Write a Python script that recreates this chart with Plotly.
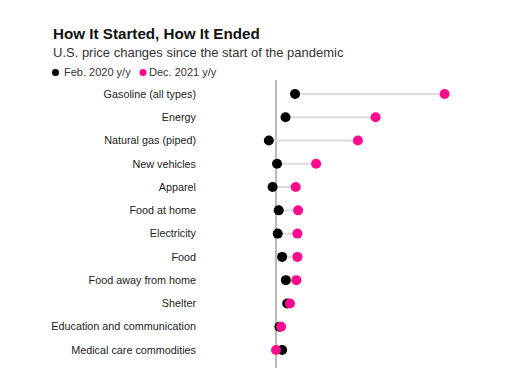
import plotly.graph_objects as go

categories = ["Gasoline (all types)", "Energy", "Natural gas (piped)", "New vehicles",
              "Apparel", "Food at home", "Electricity", "Food", "Food away from home",
              "Shelter", "Education and communication", "Medical care commodities"]
feb_2020 = [5.6, 2.8, -2.1, 0.3, -1.0, 0.8, 0.5, 1.8, 2.9, 3.3, 1.0, 1.8]
dec_2021 = [49.6, 29.3, 24.1, 11.8, 5.8, 6.5, 6.3, 6.3, 6.0, 4.1, 1.5, 0.0]
series_names = ["Feb. 2020 y/y", "Dec. 2021 y/y"]

BLACK = "#000000"
PINK = "#ff0a8c"
FONT = "Liberation Sans, Arial, sans-serif"

OFF = 8  # page offset of the figure in the browser
W, H = 504, 368
# plot area in screen pixels
SL, SR, ST, SB = 199, 504, 80, 376
L, T = SL - OFF, ST - OFF
R = W - (SR - OFF)
B = H - (SB - OFF)
pw, ph = W - L - R, H - T - B

fig = go.Figure()

# connector lines
cx, cy = [], []
for c, a, b in zip(categories, feb_2020, dec_2021):
    cx += [a, b, None]
    cy += [c, c, None]
fig.add_trace(go.Scatter(x=cx, y=cy, mode="lines", line=dict(color="#dcdcdc", width=2),
                         hoverinfo="skip", showlegend=False))

fig.add_trace(go.Scatter(x=feb_2020, y=categories, mode="markers", name=series_names[0],
                         marker=dict(color=BLACK, size=10), showlegend=False))
fig.add_trace(go.Scatter(x=dec_2021, y=categories, mode="markers", name=series_names[1],
                         marker=dict(color=PINK, size=10), showlegend=False))

def px_x(p):  # screen px -> paper
    return (p - OFF - L) / pw

def px_y(p):
    return (H - B - (p - OFF)) / ph

annotations = [
    dict(text="<b>How It Started, How It Ended</b>", x=px_x(51), y=px_y(33), xref="paper", yref="paper",
         xanchor="left", yanchor="middle", showarrow=False, font=dict(size=15.2, color="#111", family=FONT)),
    dict(text="U.S. price changes since the start of the pandemic", x=px_x(51), y=px_y(52),
         xref="paper", yref="paper", xanchor="left", yanchor="middle", showarrow=False,
         font=dict(size=13, color="#333", family=FONT)),
    dict(text=series_names[0], x=px_x(62), y=px_y(71.5), xref="paper", yref="paper",
         xanchor="left", yanchor="middle", showarrow=False, font=dict(size=11, color="#333", family=FONT)),
    dict(text=series_names[1], x=px_x(146.5), y=px_y(71.5), xref="paper", yref="paper",
         xanchor="left", yanchor="middle", showarrow=False, font=dict(size=11, color="#333", family=FONT)),
]

shapes = []
for cxp, col in [(55.5, BLACK), (143, PINK)]:
    shapes.append(dict(type="circle", xref="paper", yref="paper", xsizemode="pixel", ysizemode="pixel",
                       xanchor=px_x(cxp), yanchor=px_y(72.5), x0=-3.5, x1=3.5, y0=-3.5, y1=3.5,
                       fillcolor=col, line=dict(width=0)))

scale = 3.4  # px per percentage point
x0 = -(276 - SL) / scale
x1 = x0 + pw / scale
row = 23.27
y_top = -(94 - ST) / row
y_bot = y_top + ph / row

fig.update_layout(
    width=W, height=H,
    margin=dict(l=L, r=R, t=T, b=B),
    paper_bgcolor="white", plot_bgcolor="white",
    showlegend=False,
    annotations=annotations, shapes=shapes,
    xaxis=dict(range=[x0, x1], showgrid=False, showticklabels=False, ticks="",
               zeroline=True, zerolinecolor="#b8b8b8", zerolinewidth=2, fixedrange=True),
    yaxis=dict(range=[y_bot, y_top], showgrid=False, zeroline=False, ticks="",
               tickfont=dict(size=10.8, color="#222", family=FONT), ticklabelstandoff=2,
               categoryorder="array", categoryarray=categories),
    font=dict(family=FONT),
)

fig.write_html("out.html")
